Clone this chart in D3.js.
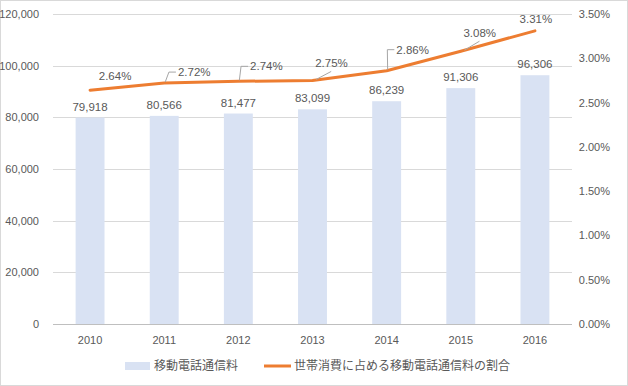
<!DOCTYPE html>
<head>
  <meta charset="utf-8">
  <title>移動電話通信料</title>
  <style>
    body { margin: 0; background: #fff; }
    text { font-family: "Liberation Sans", Arial, sans-serif; fill: #595959; }
    .jp { font-family: "Noto Sans CJK JP", sans-serif; }
  </style>
  <script src="https://cdn.jsdelivr.net/npm/d3@7"></script>
</head>
<body>
  <script>
    // data
    var years = ["2010", "2011", "2012", "2013", "2014", "2015", "2016"];
    var fees = [79918, 80566, 81477, 83099, 86239, 91306, 96306];
    var shares = [2.64, 2.72, 2.74, 2.75, 2.86, 3.08, 3.31];
    var leftTicks = [0, 20000, 40000, 60000, 80000, 100000, 120000];
    var rightTicks = [0, 0.5, 1, 1.5, 2, 2.5, 3, 3.5];
    var barName = "移動電話通信料";
    var lineName = "世帯消費に占める移動電話通信料の割合";

    // label placement for the percentage labels (offset of label centre from point)
    var labelOffsets = [[25, -14], [30, -11], [28, -15], [19, -17], [26, -21], [19, -18], [1, -12]];
    var leaderType = ["none", "side", "side", "below", "side", "below", "none"];

    var width = 628, height = 386;
    var margin = {top: 14, right: 56, bottom: 62, left: 53};

    var svg = d3.select("body").append("svg")
      .attr("width", width)
      .attr("height", height);

    svg.append("rect")
      .attr("x", 0.5).attr("y", 0.5)
      .attr("width", width - 1).attr("height", height - 1)
      .attr("fill", "#fff")
      .attr("stroke", "#d9d9d9");

    var x = d3.scaleBand()
      .domain(years)
      .range([margin.left, width - margin.right]);
    var yL = d3.scaleLinear()
      .domain([0, 120000])
      .range([height - margin.bottom, margin.top]);
    var yR = d3.scaleLinear()
      .domain([0, 3.5])
      .range([height - margin.bottom, margin.top]);

    // gridlines
    svg.append("g").selectAll("line")
      .data(leftTicks)
      .enter().append("line")
      .attr("x1", margin.left).attr("x2", width - margin.right)
      .attr("y1", d => Math.round(yL(d)) + 0.5)
      .attr("y2", d => Math.round(yL(d)) + 0.5)
      .attr("stroke", d => d === 0 ? "#bfbfbf" : "#d9d9d9");

    // left axis
    var leftAxis = svg.append("g")
      .attr("transform", "translate(" + (margin.left - 11) + ",0)")
      .call(d3.axisLeft(yL).tickValues(leftTicks).tickSize(0).tickFormat(d3.format(",")));
    leftAxis.select(".domain").remove();
    leftAxis.selectAll("text").attr("font-size", 11).style("fill", "#595959").attr("font-family", null);

    // right axis
    var rightAxis = svg.append("g")
      .attr("transform", "translate(" + (width - 15) + ",0)")
      .call(d3.axisLeft(yR).tickValues(rightTicks).tickSize(0).tickFormat(d => d.toFixed(2) + "%"));
    rightAxis.select(".domain").remove();
    rightAxis.selectAll("text").attr("font-size", 11).style("fill", "#595959").attr("font-family", null);

    // x axis
    var xAxis = svg.append("g")
      .attr("transform", "translate(0," + (height - margin.bottom + 9) + ")")
      .call(d3.axisBottom(x).tickSize(0));
    xAxis.select(".domain").remove();
    xAxis.selectAll("text").attr("font-size", 11).style("fill", "#595959").attr("font-family", null);

    // bars
    var barW = x.bandwidth() * 0.39;
    svg.append("g").selectAll("rect")
      .data(fees)
      .enter().append("rect")
      .attr("x", (d, i) => x(years[i]) + x.bandwidth() / 2 - barW / 2)
      .attr("y", d => yL(d))
      .attr("width", barW)
      .attr("height", d => yL(0) - yL(d))
      .attr("fill", "#d9e2f3");

    svg.append("g").selectAll("text")
      .data(fees)
      .enter().append("text")
      .attr("x", (d, i) => x(years[i]) + x.bandwidth() / 2)
      .attr("y", d => yL(d) - 7)
      .attr("text-anchor", "middle")
      .attr("font-size", 11.5)
      .text(d3.format(","));

    // line
    var cx = (d, i) => x(years[i]) + x.bandwidth() / 2;
    var line = d3.line()
      .x(cx)
      .y(d => yR(d));
    svg.append("path")
      .datum(shares)
      .attr("d", line)
      .attr("fill", "none")
      .attr("stroke", "#ed7d31")
      .attr("stroke-width", 3)
      .attr("stroke-linejoin", "round")
      .attr("stroke-linecap", "round");

    // leader lines and labels
    var labels = svg.append("g");
    shares.forEach(function (d, i) {
      var px = cx(d, i), py = yR(d);
      var lx = px + labelOffsets[i][0], ly = py + labelOffsets[i][1];
      var t = labels.append("text")
        .attr("x", lx).attr("y", ly + 4)
        .attr("text-anchor", "middle")
        .attr("font-size", 11.5)
        .text(d.toFixed(2) + "%");
      var w = t.node().getComputedTextLength();
      var left = lx - w / 2;
      if (leaderType[i] === "side") {
        labels.append("path")
          .attr("d", "M" + (px + 1) + "," + (py - 1) + "L" + (left - 9) + "," + ly + "H" + (left - 2))
          .attr("fill", "none").attr("stroke", "#a6a6a6").attr("stroke-width", 1);
      } else if (leaderType[i] === "below") {
        labels.append("path")
          .attr("d", "M" + (left + 1) + "," + (py - 1) + "L" + (left + 16) + "," + (ly + 8))
          .attr("fill", "none").attr("stroke", "#a6a6a6").attr("stroke-width", 1);
      }
    });

    // legend
    var legend = svg.append("g").attr("transform", "translate(0," + 366 + ")");
    legend.append("rect")
      .attr("x", 125).attr("y", -4).attr("width", 25).attr("height", 8)
      .attr("fill", "#d9e2f3");
    legend.append("text")
      .attr("class", "jp")
      .attr("x", 154).attr("y", 4)
      .attr("font-size", 12)
      .text(barName);
    legend.append("line")
      .attr("x1", 264).attr("x2", 291).attr("y1", 0).attr("y2", 0)
      .attr("stroke", "#ed7d31").attr("stroke-width", 3);
    legend.append("text")
      .attr("class", "jp")
      .attr("x", 294).attr("y", 4)
      .attr("font-size", 12)
      .text(lineName);
  </script>
</body>
